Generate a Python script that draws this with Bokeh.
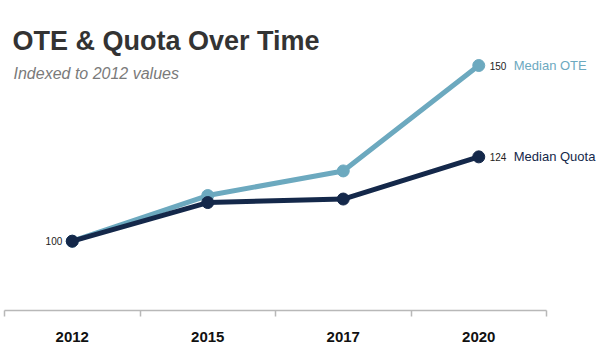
from bokeh.plotting import figure
from bokeh.models import Range1d, FixedTicker, Label, ColumnDataSource
from bokeh.core.properties import value
from bokeh.embed import file_html
from bokeh.resources import INLINE

# ---- data ----
years = ["2012", "2015", "2017", "2020"]
median_ote = [100, 113, 120, 150]
median_quota = [100, 111, 112, 124]
series_names = ["Median OTE", "Median Quota"]
title_text = "OTE & Quota Over Time"
subtitle_text = "Indexed to 2012 values"

# ---- styling ----
OTE_COLOR = "#6CA9BF"
QUOTA_COLOR = "#14284A"
FONT = "Liberation Sans"

xs = [i + 0.5 for i in range(len(years))]

p = figure(width=600, height=354, output_backend="svg", toolbar_location=None,
           x_range=Range1d(-4 / 135.5, 596 / 135.5),
           y_range=Range1d(80.28, 168.5),
           y_axis_location=None,
           min_border_left=0, min_border_right=0, min_border_top=0,
           min_border_bottom=44)
p.outline_line_color = None
p.xgrid.visible = False
p.ygrid.visible = False
p.background_fill_color = "white"
p.border_fill_color = "white"

ax = p.xaxis[0]
ax.ticker = FixedTicker(ticks=xs, minor_ticks=list(range(len(years) + 1)))
ax.major_label_overrides = {x: y for x, y in zip(xs, years)}
ax.bounds = (0, len(years))
ax.axis_line_color = "#b8b8b8"
ax.axis_line_width = 1.5
ax.major_tick_line_color = None
ax.minor_tick_line_color = "#b8b8b8"
ax.minor_tick_line_width = 1.5
ax.minor_tick_out = 6
ax.minor_tick_in = 0
ax.major_tick_out = 0
ax.major_tick_in = 0
ax.major_label_standoff = 15
ax.major_label_text_font = FONT
ax.major_label_text_font_style = "bold"
ax.major_label_text_font_size = "15px"
ax.major_label_text_color = "#111111"

src = ColumnDataSource(dict(x=xs, ote=median_ote, quota=median_quota))

p.line("x", "ote", source=src, line_color=OTE_COLOR, line_width=5)
p.scatter("x", "ote", source=src, size=12, fill_color=OTE_COLOR, line_color=OTE_COLOR)
p.line("x", "quota", source=src, line_color=QUOTA_COLOR, line_width=5)
p.scatter("x", "quota", source=src, size=12, fill_color=QUOTA_COLOR, line_color=QUOTA_COLOR)

# end labels
end = ColumnDataSource(dict(
    x=[xs[-1], xs[-1]],
    y=[median_ote[-1], median_quota[-1]],
    v=[str(median_ote[-1]), str(median_quota[-1])],
    name=series_names,
    c=[OTE_COLOR, QUOTA_COLOR],
))
p.text("x", "y", text="v", source=end, x_offset=11, text_align="left",
       text_baseline="middle", text_font=value(FONT), text_font_size="10px",
       text_color="#222222")
p.text("x", "y", text="name", source=end, x_offset=35, text_align="left",
       text_baseline="middle", text_font=value(FONT), text_font_size="13px",
       text_color="c")

# start label
start = ColumnDataSource(dict(x=[xs[0]], y=[median_quota[0]], v=[str(median_quota[0])]))
p.text("x", "y", text="v", source=start, x_offset=-10, text_align="right",
       text_baseline="middle", text_font=value(FONT), text_font_size="10px",
       text_color="#222222")

p.add_layout(Label(x=12, y=270, x_units="screen", y_units="screen", text=title_text,
                   text_font=FONT, text_font_style="bold", text_font_size="27px",
                   text_color="#333333", text_baseline="alphabetic"))
p.add_layout(Label(x=13, y=237, x_units="screen", y_units="screen", text=subtitle_text,
                   text_font=FONT, text_font_style="italic", text_font_size="16px",
                   text_color="#7a7a7a", text_baseline="alphabetic"))

open("out.html", "w").write(file_html(p, INLINE))
